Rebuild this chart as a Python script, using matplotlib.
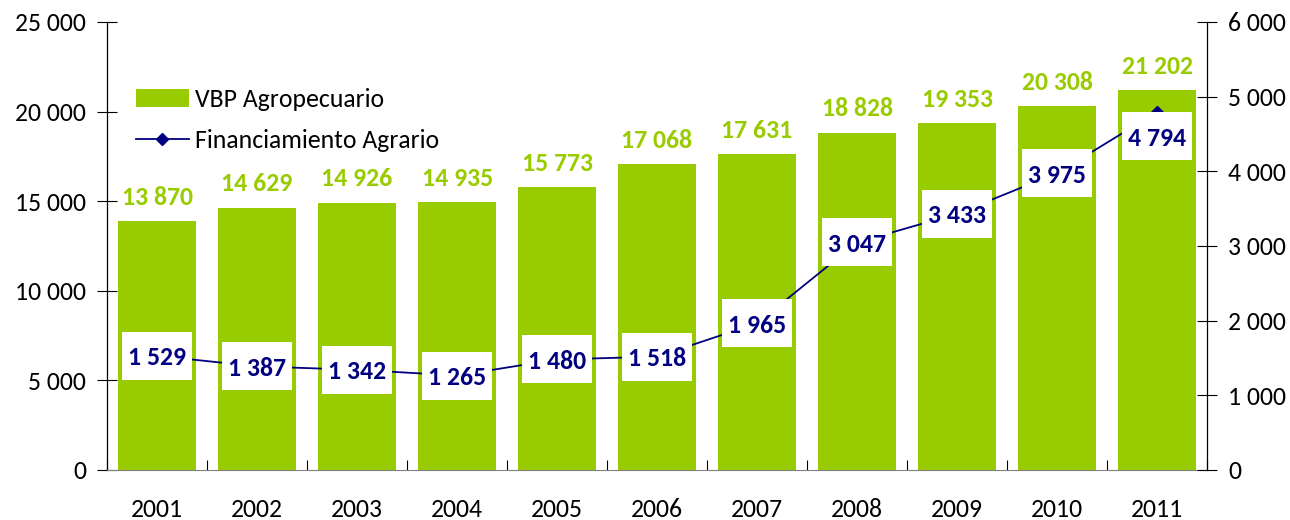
import matplotlib.pyplot as plt
from matplotlib.ticker import FuncFormatter, MultipleLocator
from matplotlib.patches import Rectangle
from matplotlib.transforms import ScaledTranslation
import numpy as np

# Datos
anios = ['2001', '2002', '2003', '2004', '2005', '2006', '2007', '2008', '2009', '2010', '2011']
vbp = [13870, 14629, 14926, 14935, 15773, 17068, 17631, 18828, 19353, 20308, 21202]
financiamiento = [1529, 1387, 1342, 1265, 1480, 1518, 1965, 3047, 3433, 3975, 4794]

verde = '#99CC00'
azul = '#000080'

plt.rcParams['font.family'] = ['Carlito', 'DejaVu Sans']


def miles(v, pos=None):
    return f'{int(v):,}'.replace(',', ' ')


fig = plt.figure(figsize=(12.9, 5.2), dpi=100)
ax = fig.add_axes([0.083, 0.0962, 0.8527, 0.8615])
ax2 = ax.twinx()

x = np.arange(len(anios))
ax.bar(x, vbp, width=0.78, color=verde, label='VBP Agropecuario', zorder=2)
ax.set_xlim(-0.5, len(anios) - 0.5)
ax.set_ylim(0, 25000)
ax.yaxis.set_major_locator(MultipleLocator(5000))
ax.yaxis.set_major_formatter(FuncFormatter(miles))

# Etiquetas de las barras
for xi, v in zip(x, vbp):
    ax.annotate(miles(v), (xi, v), xytext=(0, 9), textcoords='offset points',
                ha='center', va='bottom', color=verde, fontsize=18.5, fontweight='bold')

# Linea de financiamiento
ax2.plot(x, financiamiento, color=azul, lw=1.3, marker='D', markersize=6,
         label='Financiamiento Agrario', zorder=3)
ax2.set_ylim(0, 6000)
ax2.yaxis.set_major_locator(MultipleLocator(1000))
ax2.yaxis.set_major_formatter(FuncFormatter(miles))

# Etiquetas en cajas blancas (tamaño en pulgadas, centradas en el punto)
caja_w, caja_h = 0.70, 0.48
for i, (xi, v) in enumerate(zip(x, financiamiento)):
    dy = -0.24 if i == len(x) - 1 else 0.0
    tr = fig.dpi_scale_trans + ScaledTranslation(xi, v, ax2.transData)
    ax2.add_patch(Rectangle((-caja_w / 2, -caja_h / 2 + dy), caja_w, caja_h,
                            transform=tr, fc='white', ec='none', zorder=4))
    ax2.text(0, dy, miles(v), transform=tr, ha='center', va='center_baseline',
             color=azul, fontsize=18.5, fontweight='bold', zorder=5)

# Ejes
ax.set_xticks(x)
ax.set_xticklabels(anios)
ax.set_xticks(np.arange(-0.5, len(anios), 1), minor=True)
ax.tick_params(axis='x', which='major', length=0, pad=20, labelsize=18.5)
ax.tick_params(axis='x', which='minor', length=7, direction='in', width=0.8)
ax.tick_params(axis='y', direction='inout', length=14, width=0.8, labelsize=18.5, pad=8)
ax2.tick_params(axis='y', direction='inout', length=14, width=0.8, labelsize=18.5, pad=8)

for a in (ax, ax2):
    a.spines['top'].set_visible(False)
    a.spines['left'].set_linewidth(0.9)
    a.spines['right'].set_linewidth(0.9)
    a.spines['bottom'].set_color('#808080')
ax.spines['right'].set_visible(False)
ax2.spines['left'].set_visible(False)
ax2.spines['bottom'].set_visible(False)

# Leyenda
h1, l1 = ax.get_legend_handles_labels()
h2, l2 = ax2.get_legend_handles_labels()
leg = ax2.legend(h1 + h2, l1 + l2, loc='upper left', bbox_to_anchor=(0.005, 0.905),
                 frameon=False, fontsize=18.5, handlelength=2.06, handletextpad=0.25,
                 labelspacing=0.7)

fig.savefig('out.png', dpi=100)
